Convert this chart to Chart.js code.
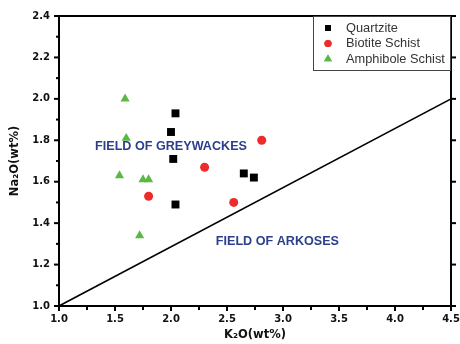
<!DOCTYPE html>
<html>
<head>
<meta charset="utf-8">
<script src="https://cdn.jsdelivr.net/npm/chart.js@4/dist/chart.umd.min.js"></script>
<style>
html,body{margin:0;padding:0;background:#fff;}
#wrap{width:460px;height:344px;position:relative;}
</style>
</head>
<body>
<div id="wrap"><canvas id="c" width="460" height="344"></canvas></div>
<script>
// ---- data ----
const quartziteK2O = [2.04, 2.00, 2.02, 2.04, 2.65, 2.74];
const quartziteNa2O = [1.93, 1.84, 1.71, 1.49, 1.64, 1.62];
const biotiteK2O = [2.81, 2.30, 1.80, 2.56];
const biotiteNa2O = [1.80, 1.67, 1.53, 1.50];
const amphiboleK2O = [1.59, 1.60, 1.54, 1.75, 1.80, 1.72];
const amphiboleNa2O = [2.00, 1.81, 1.63, 1.61, 1.61, 1.34];
const boundaryK2O = [1.0, 4.5];
const boundaryNa2O = [1.0, 2.0];
const seriesNames = ['Quartzite', 'Biotite Schist', 'Amphibole Schist'];
const fieldLabels = ['FIELD OF GREYWACKES', 'FIELD OF ARKOSES'];
const fieldLabelK2O = [2.0, 2.95];
const fieldLabelNa2O = [1.77, 1.31];
const xTicks = [1.0, 1.5, 2.0, 2.5, 3.0, 3.5, 4.0, 4.5];
const yTicks = [1.0, 1.2, 1.4, 1.6, 1.8, 2.0, 2.2, 2.4];
const xTitle = 'K\u2082O(wt%)';
const yTitle = 'Na\u2082O(wt%)';

const pts = (xs, ys) => xs.map((x, i) => ({x: x, y: ys[i]}));
const BOLD = '"DejaVu Sans", Verdana, sans-serif';

const framePlugin = {
  id: 'frame',
  afterDraw(chart) {
    const ctx = chart.ctx;
    const a = chart.chartArea;
    const xs = chart.scales.x, ys = chart.scales.y;
    ctx.save();
    ctx.strokeStyle = '#000';
    ctx.lineWidth = 2;
    ctx.lineCap = 'butt';
    ctx.beginPath();
    ctx.moveTo(a.left, a.top); ctx.lineTo(a.right, a.top);
    ctx.lineTo(a.right, a.bottom); ctx.lineTo(a.left, a.bottom);
    ctx.closePath();
    ctx.stroke();
    for (let i = 0; i < xTicks.length; i++) {
      const px = xs.getPixelForValue(xTicks[i]);
      ctx.beginPath(); ctx.moveTo(px, a.bottom); ctx.lineTo(px, a.bottom + 5); ctx.stroke();
      if (i < xTicks.length - 1) {
        const pm = xs.getPixelForValue((xTicks[i] + xTicks[i + 1]) / 2);
        ctx.beginPath(); ctx.moveTo(pm, a.bottom); ctx.lineTo(pm, a.bottom + 4); ctx.stroke();
      }
    }
    for (let i = 0; i < yTicks.length; i++) {
      const py = ys.getPixelForValue(yTicks[i]);
      ctx.beginPath(); ctx.moveTo(a.left - 5, py); ctx.lineTo(a.left, py); ctx.stroke();
      ctx.beginPath(); ctx.moveTo(a.right, py); ctx.lineTo(a.right + 5, py); ctx.stroke();
      if (i < yTicks.length - 1) {
        const pm = ys.getPixelForValue((yTicks[i] + yTicks[i + 1]) / 2);
        ctx.beginPath(); ctx.moveTo(a.left - 3, pm); ctx.lineTo(a.left, pm); ctx.stroke();
      }
    }
    ctx.fillStyle = '#2c3f8c';
    ctx.font = 'bold 12px "Liberation Sans", Arial, sans-serif';
    ctx.textAlign = 'center';
    ctx.textBaseline = 'middle';
    for (let i = 0; i < fieldLabels.length; i++) {
      ctx.save();
      const cx = xs.getPixelForValue(fieldLabelK2O[i]);
      const cy = ys.getPixelForValue(fieldLabelNa2O[i]);
      ctx.translate(cx, cy);
      ctx.scale(1.05, 1);
      ctx.fillText(fieldLabels[i], 0, 0);
      ctx.restore();
    }
    const bx = 313, by = a.top, bw = a.right - 313, bh = 54;
    ctx.fillStyle = '#fff';
    ctx.fillRect(bx, by, bw, bh);
    ctx.strokeStyle = '#444';
    ctx.lineWidth = 1;
    ctx.strokeRect(bx + 0.5, by + 0.5, bw - 1, bh);
    ctx.font = '12.8px "Liberation Sans", Arial, sans-serif';
    ctx.textAlign = 'left';
    ctx.textBaseline = 'middle';
    for (let i = 0; i < 3; i++) {
      const ds = chart.data.datasets[i];
      const ly = by + 12 + i * 15.5;
      ctx.fillStyle = ds.backgroundColor;
      ctx.beginPath();
      Chart.helpers.drawPoint(ctx, {
        pointStyle: ds.pointStyle,
        radius: ds.pointStyle === 'rect' ? 4.2 : (ds.pointStyle === 'triangle' ? 4.6 : 3.6),
        borderWidth: 0
      }, 328, ly);
      ctx.fill();
      ctx.fillStyle = '#333';
      ctx.fillText(ds.label, 346, ly);
    }
    ctx.restore();
  }
};

new Chart(document.getElementById('c'), {
  type: 'scatter',
  data: {
    datasets: [
      {label: seriesNames[0], data: pts(quartziteK2O, quartziteNa2O), pointStyle: 'rect',
       pointRadius: 5.6, backgroundColor: '#000', borderColor: '#000', borderWidth: 0},
      {label: seriesNames[1], data: pts(biotiteK2O, biotiteNa2O), pointStyle: 'circle',
       pointRadius: 4.5, backgroundColor: '#ee2b2b', borderColor: '#ee2b2b', borderWidth: 0},
      {label: seriesNames[2], data: pts(amphiboleK2O, amphiboleNa2O), pointStyle: 'triangle',
       pointRadius: 5.3, backgroundColor: '#5cb845', borderColor: '#5cb845', borderWidth: 0},
      {label: 'boundary', data: pts(boundaryK2O, boundaryNa2O), showLine: true, pointRadius: 0,
       borderColor: '#000', borderWidth: 1.6, backgroundColor: '#000', order: 10}
    ]
  },
  options: {
    responsive: false,
    animation: false,
    layout: {padding: {top: 16, right: 9, left: 0, bottom: 0}},
    plugins: {legend: {display: false}, tooltip: {enabled: false}},
    scales: {
      x: {
        type: 'linear', min: 1.0, max: 4.5,
        afterBuildTicks: s => { s.ticks = xTicks.map(v => ({value: v})); },
        afterFit: s => { s.height = 38; s.paddingLeft = 0; s.paddingRight = 0; },
        grid: {display: false, drawTicks: false},
        border: {display: false},
        ticks: {padding: 7, color: '#111', font: {family: BOLD, size: 10, weight: 'bold'},
                callback: v => v.toFixed(1), maxRotation: 0, autoSkip: false},
        title: {display: true, text: xTitle, color: '#111', padding: {top: 0, bottom: 2},
                font: {family: BOLD, size: 11.5, weight: 'bold'}}
      },
      y: {
        type: 'linear', min: 1.0, max: 2.4,
        afterBuildTicks: s => { s.ticks = yTicks.map(v => ({value: v})); },
        afterFit: s => { s.width = 59; s.paddingTop = 0; s.paddingBottom = 0; },
        grid: {display: false, drawTicks: false},
        border: {display: false},
        ticks: {padding: 9, color: '#111', font: {family: BOLD, size: 10, weight: 'bold'},
                callback: v => v.toFixed(1), autoSkip: false},
        title: {display: true, text: yTitle, color: '#111', padding: {top: 8, bottom: 0},
                font: {family: BOLD, size: 11.5, weight: 'bold'}}
      }
    }
  },
  plugins: [framePlugin]
});
</script>
</body>
</html>
